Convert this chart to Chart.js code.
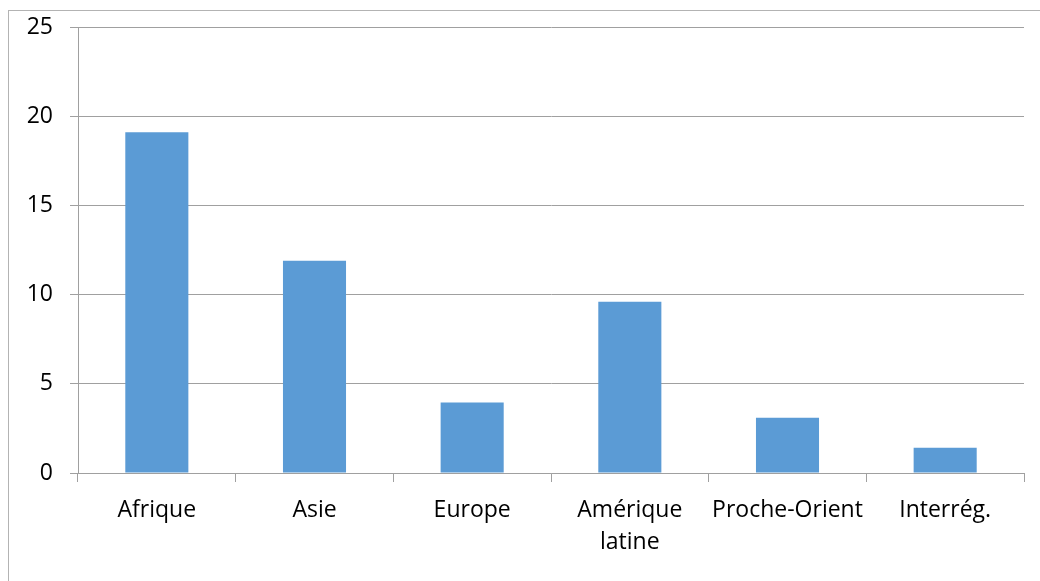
<!DOCTYPE html>
<html>
<head>
<meta charset="utf-8">
<script src="https://cdn.jsdelivr.net/npm/chart.js@4"></script>
<style>
  html, body { margin: 0; padding: 0; background: #ffffff; }
  #wrap { width: 1040px; height: 581px; position: relative; }
</style>
</head>
<body>
<div id="wrap"><canvas id="c" width="1040" height="581"></canvas></div>
<script>
const regions = ['Afrique', 'Asie', 'Europe', ['Amérique', 'latine'], 'Proche-Orient', 'Interrég.'];
const values = [19.1, 11.9, 3.95, 9.6, 3.1, 1.42];
const yTicks = [0, 5, 10, 15, 20, 25];

const gridGray = '#a0a0a0';
const xFont = { family: 'Open Sans', size: 23, lineHeight: 1.4 };
const yFont = { family: 'Open Sans', size: 23, lineHeight: 0.6 };

// Outer frame around the chart
const framePlugin = {
  id: 'frame',
  beforeDraw(chart) {
    const ctx = chart.ctx;
    ctx.save();
    ctx.fillStyle = '#ffffff';
    ctx.fillRect(0, 0, chart.width, chart.height);
    ctx.strokeStyle = '#b3b3b3';
    ctx.lineWidth = 1;
    ctx.strokeRect(8.5, 10.5, chart.width + 20, chart.height + 20);
    ctx.restore();
  }
};

new Chart(document.getElementById('c'), {
  type: 'bar',
  data: {
    labels: regions,
    datasets: [{
      data: values,
      backgroundColor: '#5b9bd5',
      borderWidth: 0,
      categoryPercentage: 1,
      barPercentage: 0.4
    }]
  },
  options: {
    responsive: false,
    animation: false,
    devicePixelRatio: 1,
    layout: { padding: { top: 27, right: 16, left: 0, bottom: 0 } },
    plugins: { legend: { display: false }, tooltip: { enabled: false } },
    scales: {
      x: {
        offset: true,
        grid: { offset: true, drawOnChartArea: false, drawTicks: true, tickLength: 9, color: gridGray },
        border: { color: gridGray },
        ticks: { color: '#000', font: xFont, padding: 12, maxRotation: 0, autoSkip: false },
        afterFit(scale) { scale.height = 581 - 473; }
      },
      y: {
        min: 0, max: 25,
        afterBuildTicks(scale) { scale.ticks = yTicks.map(v => ({ value: v })); },
        grid: { color: gridGray, tickLength: 8 },
        border: { color: gridGray },
        ticks: { color: '#000', font: yFont, padding: 17 },
        afterFit(scale) { scale.width = 78; }
      }
    }
  },
  plugins: [framePlugin]
});
</script>
</body>
</html>
